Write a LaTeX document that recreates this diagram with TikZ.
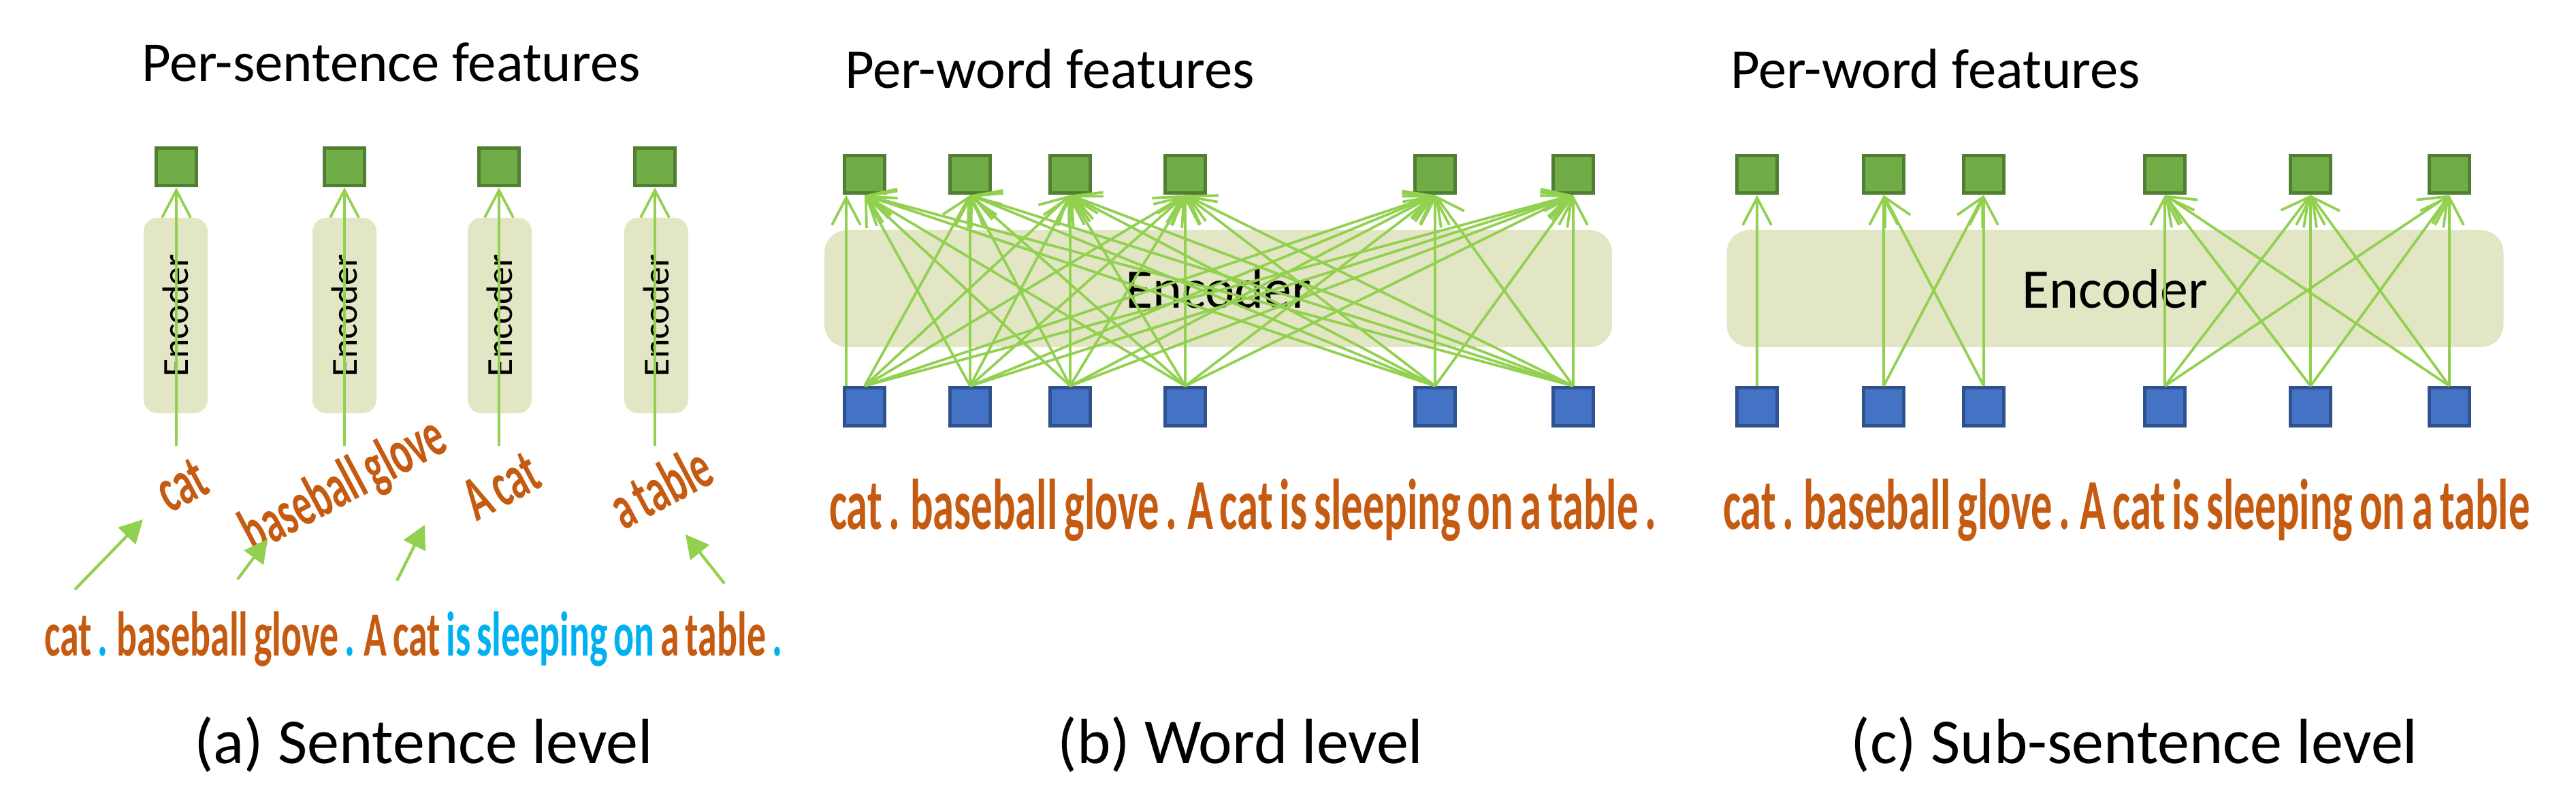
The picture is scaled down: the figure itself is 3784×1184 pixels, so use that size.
\documentclass[tikz,border=0pt]{standalone}
\usepackage{fontspec}
\setmainfont{Carlito}
\newfontfamily\sentfam{Carlito}[WordSpace=0.7]
\usepackage{graphicx}
\usetikzlibrary{arrows.meta}
\definecolor{gfill}{HTML}{70AD47}
\definecolor{gdraw}{HTML}{507E32}
\definecolor{bfill}{HTML}{4472C4}
\definecolor{bdraw}{HTML}{2F528F}
\definecolor{encfill}{HTML}{E2E6C4}
\definecolor{arrowgreen}{HTML}{92D050}
\definecolor{txtorange}{HTML}{C55A11}
\definecolor{txtblue}{HTML}{00B0F0}
\newlength\sentW
\newlength\sentH
\newcommand\basefont{\sentfam\bfseries\fontsize{20pt}{24pt}\selectfont}
\newcommand\condA[1]{\scalebox{\sxA}[\syA]{\basefont #1}}
\begin{document}
\settowidth\sentW{\basefont cat . baseball glove . A cat is sleeping on a table .}%
\settoheight\sentH{\basefont cat . baseball glove . A cat is sleeping on a table .}%
\pgfmathsetmacro\sxA{216.8/\sentW}%
\pgfmathsetmacro\syA{13/\sentH}%
\begin{tikzpicture}[x=0.2pt,y=-0.2pt,
  gsq/.style={draw=gdraw,fill=gfill,line width=1pt,minimum width=11.8pt,minimum height=11pt,inner sep=0pt},
  bsq/.style={draw=bdraw,fill=bfill,line width=1pt,minimum width=11.8pt,minimum height=11.2pt,inner sep=0pt},
  encA/.style={fill=encfill,rounded corners=4pt,rotate=90,minimum width=57.4pt,minimum height=18.8pt,inner sep=0pt,font=\fontsize{10.8pt}{12pt}\selectfont},
  encW/.style={fill=encfill,rounded corners=6.6pt,minimum height=34.4pt,inner sep=0pt,font=\fontsize{16.4pt}{18pt}\selectfont},
  varrow/.style={draw=arrowgreen,line width=0.75pt,-{Straight Barb[length=8pt,width=8.4pt]}},
  tarrow/.style={draw=arrowgreen,line width=0.85pt,-{Triangle[length=6.8pt,width=7pt]}},
  titletext/.style={anchor=base west,inner sep=0pt,font=\fontsize{16.55pt}{18pt}\selectfont},
  captext/.style={anchor=base,inner sep=0pt,font=\fontsize{18.8pt}{20pt}\selectfont},
  word/.style={rotate=28,inner sep=0pt},
]
\useasboundingbox (0,0) rectangle (3784,1184);

% ---------- titles and captions ----------
\node[titletext] (ta) at (207,120) {Per-sentence features};
\node[titletext] (tb) at (1240,130) {Per-word features};
\node[titletext] (tc) at (2541,130) {Per-word features};
\node[captext] (ca) at (622,1121) {(a) Sentence level};
\node[captext] (cb) at (1822,1121) {(b) Word level};
\node[captext] (cc) at (3135,1121) {(c) Sub-sentence level};

% ---------- panel (a) ----------
\foreach \n/\x in {1/258,2/506,3/734,4/964}{
  \node[encA] (ea\n) at (\x,463.5) {Encoder};
}
\foreach \n/\x in {1/259,2/506,3/733,4/962}{
  \node[gsq] (ag\n) at (\x,245.5) {};
  \coordinate (at\n) at (\x,655);
}
\foreach \n in {1,...,4}{
  \draw[varrow] (at\n) -- (ag\n.south);
}
\node[word] (wa1) at (267,713) {\condA{\textcolor{txtorange}{cat}}};
\node[word] (wa2) at (506,715) {\condA{\textcolor{txtorange}{baseball glove}}};
\node[word] (wa3) at (736,714) {\condA{\textcolor{txtorange}{A cat}}};
\node[word] (wa4) at (970,715) {\condA{\textcolor{txtorange}{a table}}};
\node[anchor=base west,inner sep=0pt] (sa) at (64,963) {\condA{%
  \textcolor{txtorange}{cat} \textcolor{txtblue}{.} \textcolor{txtorange}{baseball glove} \textcolor{txtblue}{.} \textcolor{txtorange}{A cat} \textcolor{txtblue}{is sleeping on} \textcolor{txtorange}{a table} \textcolor{txtblue}{.}}};
\coordinate (s1) at (110,866);  \coordinate (d1) at (210,763);
\coordinate (s2) at (349,851);  \coordinate (d2) at (393,792);
\coordinate (s3) at (583,853);  \coordinate (d3) at (624,771);
\coordinate (s4) at (1064,857); \coordinate (d4) at (1007,785);
\foreach \n in {1,...,4}{
  \draw[tarrow] (s\n) -- (d\n);
}

% ---------- panel (b) ----------
\node[encW,minimum width=231.4pt] (eb) at (1789.5,424) {Encoder};
\foreach \n/\x in {1/1270,2/1425,3/1572,4/1741,5/2108,6/2311}{
  \node[gsq] (bg\n) at (\x,256.5) {};
  \node[bsq] (bb\n) at (\x,597.5) {};
}
\draw[varrow] ([xshift=-5.4pt]bb1.north) -- ([xshift=-5.4pt]bg1.south);
\foreach \i in {1,...,6}{
  \foreach \j in {1,...,6}{
    \ifnum\i\j=11 \else
      \draw[varrow] (bb\i.north) -- (bg\j.south);
    \fi
  }
}
\node[anchor=base west,inner sep=0pt] (sb) at (1217,777) {\resizebox{243pt}{14.8pt}{\basefont\color{txtorange}cat . baseball glove . A cat is sleeping on a table .}};

% ---------- panel (c) ----------
\node[encW,minimum width=228.2pt] (ec) at (3107,424) {Encoder};
\foreach \n/\x in {1/2581,2/2767,3/2914,4/3180,5/3394,6/3598}{
  \node[gsq] (cg\n) at (\x,256.5) {};
  \node[bsq] (cb\n) at (\x,597.5) {};
}
\draw[varrow] (cb1.north) -- (cg1.south);
\foreach \i in {2,3}{
  \foreach \j in {2,3}{
    \draw[varrow] (cb\i.north) -- (cg\j.south);
  }
}
\foreach \i in {4,5,6}{
  \foreach \j in {4,5,6}{
    \draw[varrow] (cb\i.north) -- (cg\j.south);
  }
}
\node[anchor=base west,inner sep=0pt] (sc) at (2530,777) {\resizebox{237pt}{14.8pt}{\basefont\color{txtorange}cat . baseball glove . A cat is sleeping on a table}};
\end{tikzpicture}
\end{document}
